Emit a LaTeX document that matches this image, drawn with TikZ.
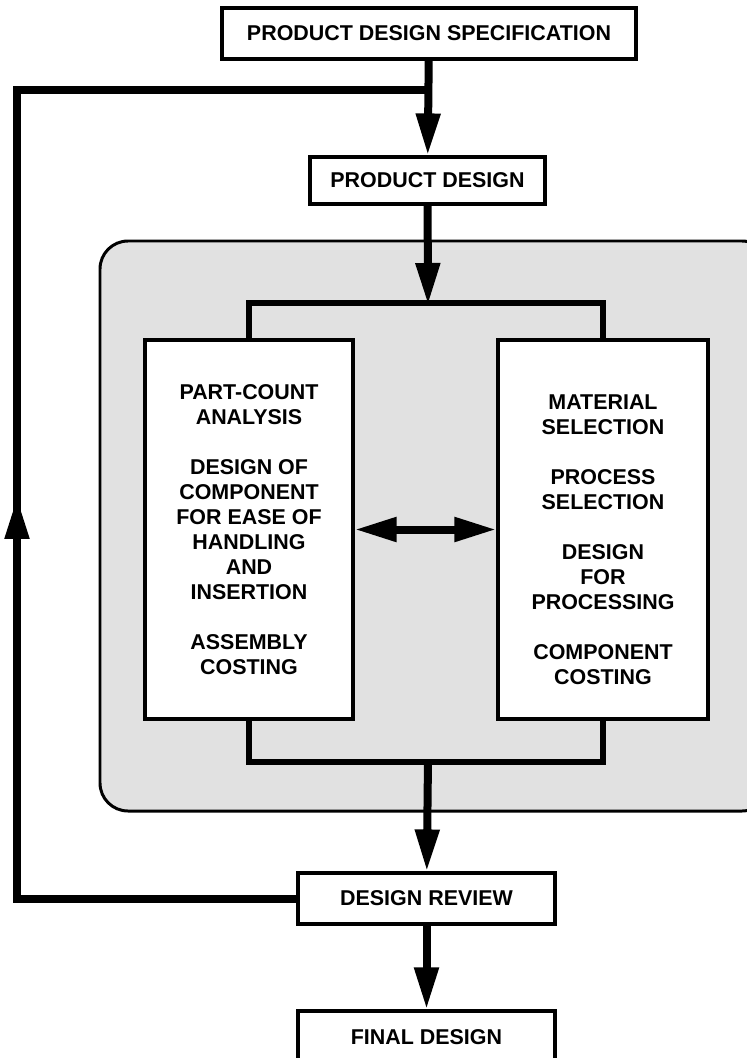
\documentclass[tikz,border=0pt]{standalone}
\usepackage{fontspec}
\setmainfont{Liberation Sans}
\usepackage{tikz}
\usetikzlibrary{arrows.meta, positioning}
\definecolor{panelgray}{HTML}{E1E1E1}

\begin{document}
\begin{tikzpicture}[x=0.02cm, y=-0.02cm, >={Triangle[length=0.84cm, width=0.46cm]},
       box/.style={draw, fill=white, line width=1.8pt, inner sep=0pt, align=center,
                   font=\bfseries\fontsize{12.2}{14.2}\selectfont},
       flow/.style={line width=0.16cm},
       fork/.style={line width=0.12cm, line cap=rect, line join=miter}]
       \useasboundingbox (0,0) rectangle (747,1058);

       % Panel
       \draw[fill=panelgray, line width=1.7pt, rounded corners=0.56cm] (100,241) rectangle (770,811);

       % Nodes
       \node[box, minimum width=8.28cm, minimum height=1.02cm] (spec) at (429,33.5) {PRODUCT DESIGN SPECIFICATION};
       \node[box, minimum width=4.7cm, minimum height=0.94cm] (design) at (427.5,180.5) {PRODUCT DESIGN};
       \node[box, minimum width=4.16cm, minimum height=7.58cm] (assembly) at (249,529.5)
           {PART-COUNT\\ANALYSIS\\[14.2pt]DESIGN OF\\COMPONENT\\FOR EASE OF\\HANDLING\\AND\\INSERTION\\[14.2pt]ASSEMBLY\\COSTING};
       \node[box, minimum width=4.2cm, minimum height=7.58cm] (component) at (603,529.5)
           {\rule{0pt}{0.71cm}MATERIAL\\SELECTION\\[14.2pt]PROCESS\\SELECTION\\[14.2pt]DESIGN\\FOR\\PROCESSING\\[14.2pt]COMPONENT\\COSTING};
       \node[box, minimum width=5.14cm, minimum height=1.02cm] (review) at (426.5,898.5) {DESIGN REVIEW};
       \node[box, minimum width=5.14cm, minimum height=1.04cm] (final) at (426.5,1037) {FINAL DESIGN};

       \coordinate (topfork) at (428,305);
       \coordinate (botfork) at (428,760);
       \coordinate (loopleft) at (17,90);
       \coordinate (loopjoin) at (428,90);
       \coordinate (looptip) at (17,497);

       % Arrows
       \draw[flow, ->] (spec) -- (design);
       \draw[flow, ->] (design) -- (topfork);
       \draw[fork] (assembly.north) -- ++(0,-35) -| (component.north);
       \draw[fork] (assembly.south) -- ++(0,41) -| (component.south);
       \draw[flow, <->] (assembly) -- (component);
       \draw[flow, ->] (botfork) -- (review);
       \draw[flow, ->] (review) -- (final);

       % Redesign loop
       \draw[flow, line join=miter] (review.west) -| (loopleft) -- (loopjoin);
       \draw[flow, ->] (review.west -| loopleft) -- (looptip);
\end{tikzpicture}
\end{document}
